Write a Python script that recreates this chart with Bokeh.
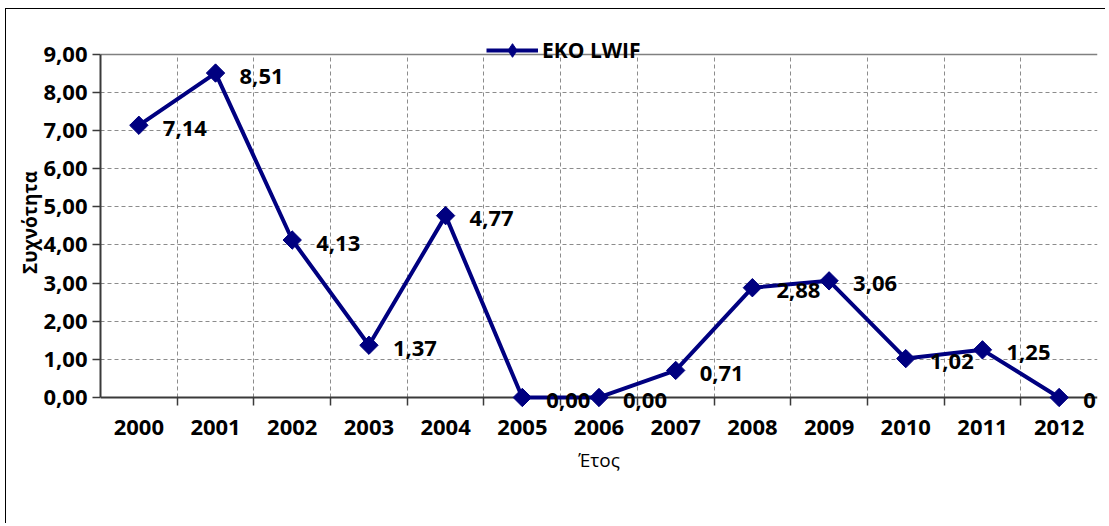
from bokeh.plotting import figure
from bokeh.models import FixedTicker, Legend, LegendItem, ColumnDataSource, Grid, Span
from bokeh.embed import file_html
from bokeh.resources import INLINE
from bokeh.core.properties import value
import numpy as np

# ---- data ----
years = ["2000", "2001", "2002", "2003", "2004", "2005", "2006",
         "2007", "2008", "2009", "2010", "2011", "2012"]
values = [7.14, 8.51, 4.13, 1.37, 4.77, 0.00, 0.00, 0.71, 2.88, 3.06, 1.02, 1.25, 0.0]
point_labels = ["7,14", "8,51", "4,13", "1,37", "4,77", "0,00", "0,00",
                "0,71", "2,88", "3,06", "1,02", "1,25", "0"]
y_ticks = [0, 1, 2, 3, 4, 5, 6, 7, 8, 9]
y_tick_labels = ["0,00", "1,00", "2,00", "3,00", "4,00", "5,00", "6,00",
                 "7,00", "8,00", "9,00"]
series_name = "EKO LWIF"
x_title = "Έτος"
y_title = "Συχνότητα"

FONT = "Open Sans"
NAVY = "#000080"
GRID = "#8c8c8c"
AXIS = "#3a3a3a"
Y_MIN, Y_MAX = 0, 9

xs = list(range(len(years)))
boundaries = [i - 0.5 for i in range(len(years) + 1)]
src = ColumnDataSource(dict(x=xs, y=values, lab=point_labels))

p = figure(width=1100, height=515, x_range=(-0.5, len(years) - 0.5),
           y_range=(-0.42, 9.6), output_backend="svg", toolbar_location=None,
           min_border_left=94, min_border_right=9, min_border_top=22,
           min_border_bottom=111)
p.styles = {"margin-left": "5px", "margin-top": "8px",
            "border-left": "1px solid #000000", "border-top": "1px solid #000000"}
p.outline_line_color = None
p.background_fill_color = "white"

has_cross = "cross_bounds" in Grid.properties()

def grid(dim, ticks, cross, **kw):
    g = Grid(dimension=dim, ticker=FixedTicker(ticks=ticks), **kw)
    if has_cross and cross is not None:
        g.cross_bounds = cross
    p.add_layout(g)
    return g

# remove default grids, add our own
p.xgrid.visible = False
p.ygrid.visible = False
grid(0, boundaries[1:-1], (Y_MIN, Y_MAX), grid_line_color=GRID, grid_line_dash="4 3")
grid(1, y_ticks[1:-1], None, grid_line_color=GRID, grid_line_dash="4 3")
# plot-area top / right border
grid(1, [Y_MAX], None, grid_line_color="#808080", grid_line_width=1.5)
grid(0, [boundaries[-1]], (Y_MIN, Y_MAX), grid_line_color="#808080", grid_line_width=2)
# category boundary tick marks below the x axis
grid(0, boundaries, (-0.21, 0), grid_line_color=AXIS, grid_line_width=1.5)
# x axis line at 0
p.add_layout(Span(location=0, dimension="width", line_color=AXIS, line_width=2, level="underlay"))

# x axis (labels only)
xa = p.xaxis[0]
xa.ticker = FixedTicker(ticks=xs)
xa.major_label_overrides = {i: years[i] for i in xs}
xa.axis_line_color = None
xa.major_tick_line_color = None
xa.minor_tick_line_color = None
xa.major_label_standoff = 0
xa.major_label_text_font = FONT
xa.major_label_text_font_style = "bold"
xa.major_label_text_font_size = "22px"
xa.major_label_text_color = "black"
xa.axis_label = x_title
xa.axis_label_text_font = FONT
xa.axis_label_text_font_style = "normal"
xa.axis_label_text_font_size = "19px"
xa.axis_label_text_color = "black"
xa.axis_label_standoff = 9

# y axis
ya = p.yaxis[0]
ya.ticker = FixedTicker(ticks=y_ticks)
ya.major_label_overrides = {t: l for t, l in zip(y_ticks, y_tick_labels)}
ya.bounds = (Y_MIN, Y_MAX)
ya.axis_line_color = AXIS
ya.axis_line_width = 2
ya.major_tick_line_color = AXIS
ya.major_tick_line_width = 1.5
ya.major_tick_in = 0
ya.major_tick_out = 8
ya.minor_tick_line_color = None
ya.major_label_standoff = 5
ya.major_label_text_font = FONT
ya.major_label_text_font_style = "bold"
ya.major_label_text_font_size = "22px"
ya.major_label_text_color = "black"
ya.axis_label = y_title
ya.axis_label_text_font = FONT
ya.axis_label_text_font_style = "bold"
ya.axis_label_text_font_size = "19px"
ya.axis_label_text_color = "black"
ya.axis_label_standoff = -3

# series
ln = p.line("x", "y", source=src, line_color=NAVY, line_width=4)
# diamond key used by the legend (hidden beneath the plotted markers)
key = p.scatter("x", "y", source=src, marker="diamond", size=17,
                fill_color=NAVY, line_color=NAVY)
mk = p.scatter("x", "y", source=src, marker="square", angle=np.pi / 4, size=13,
               fill_color=NAVY, line_color=NAVY)
p.text("x", "y", text="lab", source=src, x_offset=24, y_offset=3,
       text_align="left", text_baseline="middle", text_font=value(FONT),
       text_font_style="bold", text_font_size="22px", text_color="black")

legend = Legend(items=[LegendItem(label=series_name, renderers=[ln, key])],
                location=(386, 346), orientation="horizontal",
                border_line_color=None, background_fill_alpha=0,
                label_text_font=FONT, label_text_font_style="bold",
                label_text_font_size="21px", label_text_color="black",
                glyph_width=52, glyph_height=34, padding=2, margin=0,
                label_standoff=4)
p.add_layout(legend)

open("out.html", "w").write(file_html(p, INLINE))
